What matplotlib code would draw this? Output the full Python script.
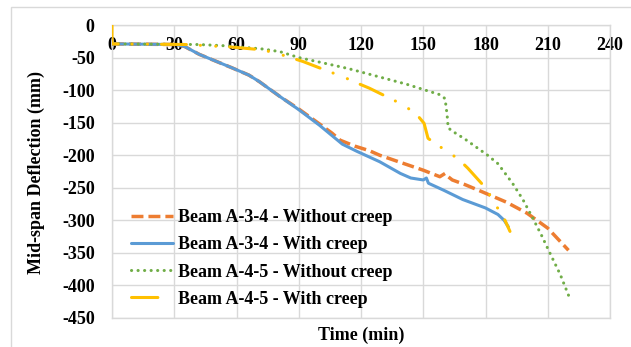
import matplotlib
matplotlib.use("Agg")
import matplotlib.pyplot as plt
from matplotlib.lines import Line2D
from matplotlib.patches import Rectangle

plt.rcParams['font.family'] = ['Liberation Serif', 'DejaVu Serif']
plt.rcParams['font.weight'] = 'bold'
plt.rcParams['lines.scale_dashes'] = False
plt.rcParams['axes.unicode_minus'] = False

# ---- data ----
t_a34_nc = [0, 31, 35, 42, 58, 66, 71, 81, 90, 100, 106, 110, 117, 124, 129, 139, 150, 158, 160.5, 162,
            164, 170, 179, 190, 200, 210, 220]
d_a34_nc = [-29, -30, -33, -45, -66, -77, -87, -110, -129, -152, -166, -177, -186, -193, -200, -211, -223,
            -233, -228, -233, -238, -245, -257, -272, -289, -312, -346]

t_a34_c = [0, 31, 35, 42, 58, 66, 71, 81, 90, 100, 111, 118, 129, 139, 144, 150, 151.5, 152.5, 160, 169,
           180, 186, 189, 191]
d_a34_c = [-29, -30, -33, -45, -66, -77, -87, -110, -130, -154, -183, -194, -210, -228, -235, -238, -235,
           -243, -254, -268, -281, -291, -300, -310]

t_a45_nc = [0, 42, 55, 66, 73, 81, 90, 100, 114, 128, 142, 151, 158, 160.5, 161.5, 162, 164.5, 170, 181,
            186, 193, 198, 203, 207, 211, 216, 220]
d_a45_nc = [-29, -30, -32, -35, -37, -41, -50, -57, -67, -79, -91, -100, -107, -113, -138, -158, -164,
            -175, -200, -213, -243, -268, -298, -323, -350, -383, -415]

t_a45_c = [0, 0, 36, 58, 72, 79, 86, 92, 105, 111, 118, 124, 135.5, 141, 147, 150.4, 152.3, 155.7, 161,
           167, 171.5, 180, 183, 186, 189.4, 191.8]
d_a45_c = [0, -29, -30, -34, -38, -43, -50, -56, -72, -79, -89, -97, -115, -124, -138, -151, -174, -182,
           -193, -206, -220, -250, -266, -282, -300, -317]

x_ticks = [0, 30, 60, 90, 120, 150, 180, 210, 240]
y_ticks = [0, -50, -100, -150, -200, -250, -300, -350, -400, -450]
labels = ["Beam A-3-4 - Without creep", "Beam A-3-4 - With creep",
          "Beam A-4-5 - Without creep", "Beam A-4-5 - With creep"]

c_orange = '#ED7D31'
c_blue = '#5B9BD5'
c_green = '#70AD47'
c_yellow = '#FFC000'
grid_c = '#D9D9D9'

W, H = 631, 347
fig = plt.figure(figsize=(W / 100, H / 100), dpi=100)
fig.patches.append(Rectangle((11 / W, -0.1), 1.2, 1 - 7 / H + 0.1, transform=fig.transFigure,
                             fill=False, edgecolor='#D9D9D9', linewidth=1.0))
ax = fig.add_axes([112 / W, 1 - 318 / H, (610 - 112) / W, (318 - 25) / H])

fs = 13
l1, = ax.plot(t_a34_nc, d_a34_nc, color=c_orange, lw=2.5, linestyle=(0, (8.6, 3.6)),
              dash_capstyle='butt', zorder=3)
l2, = ax.plot(t_a34_c, d_a34_c, color=c_blue, lw=2.2, solid_capstyle='round', zorder=4)
l3, = ax.plot(t_a45_nc, d_a45_nc, color=c_green, lw=2.2, linestyle=(0, (0.1, 4.6)),
              dash_capstyle='round', zorder=5)
l4, = ax.plot(t_a45_c, d_a45_c, color=c_yellow, lw=2.2, linestyle=(0, (18, 10, 0.1, 11, 0.1, 10)),
              dash_capstyle='round', zorder=6)

ax.set_xlim(0, 240)
ax.set_ylim(-450, 0)
ax.set_xticks(x_ticks)
ax.set_yticks(y_ticks)
ax.grid(True, color=grid_c, lw=1.0, zorder=0)
ax.set_axisbelow(True)
for s in ax.spines.values():
    s.set_color(grid_c)
    s.set_linewidth(1.0)

ax.xaxis.set_ticks_position('top')
ax.tick_params(axis='x', length=0, pad=-21, labelsize=fs, labeltop=True, labelbottom=False)
ax.tick_params(axis='y', length=0, pad=12.5, labelsize=fs)
for lab in ax.get_xticklabels() + ax.get_yticklabels():
    lab.set_fontweight('bold')

fig.text(361 / W, 1 - 335 / H, "Time (min)", ha='center', va='center', fontsize=fs, fontweight='bold')
fig.text(36 / W, 1 - 172 / H, "Mid-span Deflection (mm)", ha='center', va='center', rotation=90,
         fontsize=fs, fontweight='bold')

h4 = Line2D([], [], color=c_yellow, lw=2.2, linestyle=(0, (19, 40)), dash_capstyle='round')
leg = ax.legend([l1, l2, l3, h4], labels, loc='center left', bbox_to_anchor=(0.038, 0.203),
                frameon=False, handlelength=2.33, handletextpad=0.28,
                labelspacing=0.56, borderpad=0, borderaxespad=0,
                prop={'weight': 'bold', 'size': fs})
leg.set_zorder(7)

fig.savefig("out.png", dpi=100)
